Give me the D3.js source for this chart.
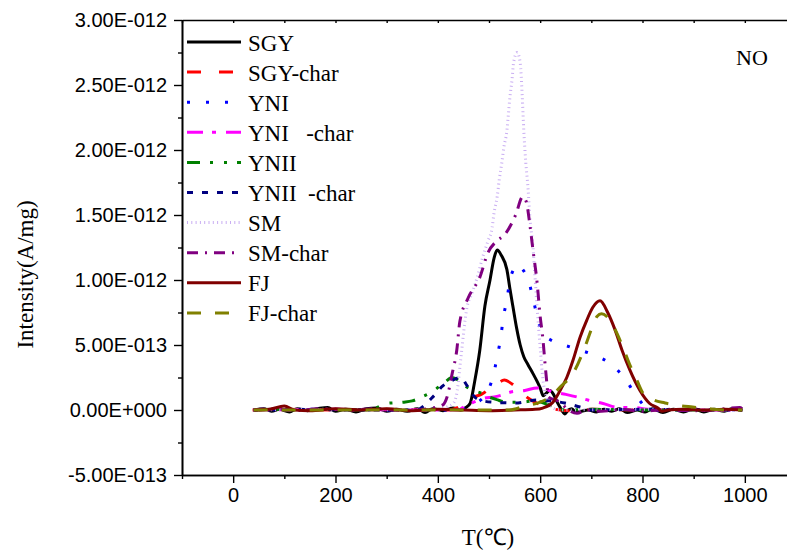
<!DOCTYPE html>
<html>
<head>
<meta charset="utf-8">
<script src="https://cdn.jsdelivr.net/npm/d3@7/dist/d3.min.js"></script>
<style>
  body { margin: 0; background: #fff; }
  svg { display: block; }
  .tick text { font-family: Arial, "Liberation Sans", sans-serif; font-size: 20px; fill: #000; }
  .serif { font-family: "Times New Roman", "Liberation Serif", serif; fill: #000; }
</style>
</head>
<body>
<svg id="chart" width="787" height="554"></svg>
<script>
// NO evolution profiles, temperature (°C) vs intensity in units of 1E-12 A/mg
const sgy = [[40,0],[60,0.01],[75,-0.01],[90,0.005],[110,-0.015],[125,0.01],[145,-0.005],[165,0.01],[185,0.02],[200,-0.01],[220,0.005],[240,-0.015],[260,0.01],[280,0.015],[300,-0.01],[320,0.005],[340,-0.01],[360,0.01],[375,-0.02],[390,0.01],[410,-0.005],[430,0.015],[445,0],[455,0.02],[463,0.05],[472,0.22],[482,0.46],[492,0.8],[502,1.0],[510,1.17],[516,1.23],[524,1.19],[535,1.08],[541,0.93],[547,0.79],[554,0.63],[561,0.5],[568,0.41],[576,0.35],[586,0.28],[594,0.22],[600,0.17],[606,0.11],[612,0.13],[619,0.15],[626,0.12],[632,0.07],[639,0.02],[648,-0.03],[655,0],[662,0.01],[670,-0.02],[680,-0.01],[695,0],[710,-0.015],[725,0.005],[740,-0.01],[755,0.01],[770,-0.02],[790,0],[805,-0.015],[820,0.01],[840,-0.02],[860,0.005],[880,-0.015],[900,0.01],[920,-0.015],[940,0.005],[960,-0.01],[975,0.01],[995,0]];
const sgyChar = [[38,0],[100,0.005],[200,0],[300,0.005],[400,0],[420,0],[440,0.02],[455,0.06],[470,0.1],[485,0.12],[500,0.16],[515,0.2],[530,0.23],[545,0.2],[560,0.15],[577,0.09],[595,0.05],[613,0.02],[630,0.005],[660,-0.005],[700,0.005],[800,0],[900,0.005],[995,0]];
const yni = [[40,0],[150,0.005],[300,0],[440,0],[460,0.02],[478,0.06],[490,0.1],[498,0.15],[508,0.26],[516,0.41],[523,0.56],[528,0.71],[535,0.85],[541,1.0],[548,1.08],[555,1.12],[566,1.08],[576,1.01],[586,0.86],[594,0.72],[605,0.59],[620,0.54],[639,0.51],[670,0.47],[707,0.42],[736,0.36],[748,0.32],[771,0.21],[791,0.09],[810,0.015],[830,0],[900,0.005],[995,0]];
const yniChar = [[40,0],[200,0.005],[350,0],[440,0],[453,0.03],[470,0.06],[490,0.09],[510,0.1],[525,0.115],[545,0.14],[570,0.15],[594,0.17],[610,0.16],[625,0.14],[650,0.12],[672,0.1],[693,0.077],[723,0.05],[752,0.02],[781,0.02],[810,0.005],[840,0],[995,0]];
const ynii = [[40,0],[100,0.005],[150,0],[200,0.005],[250,0],[275,0.01],[299,0.05],[332,0.06],[350,0.07],[369,0.1],[389,0.14],[414,0.215],[428,0.25],[440,0.23],[455,0.18],[470,0.15],[485,0.13],[500,0.1],[515,0.08],[535,0.06],[560,0.06],[590,0.07],[610,0.05],[630,0.02],[650,0],[700,0.005],[800,0],[995,0]];
const yniiChar = [[40,0],[120,0.005],[250,0],[360,0],[372,0.03],[385,0.08],[395,0.12],[408,0.18],[424,0.22],[445,0.25],[455,0.2],[463,0.15],[472,0.1],[482,0.077],[508,0.06],[551,0.054],[594,0.077],[620,0.07],[648,0.054],[678,0.023],[701,0],[800,0.005],[995,0]];
const sm = [[40,0],[200,0.005],[400,0],[415,0.02],[430,0.05],[438,0.15],[445,0.4],[457,0.79],[467,0.9],[477,1.02],[488,1.18],[498,1.3],[506,1.4],[510,1.52],[516,1.64],[520,1.77],[525,1.9],[529,2.02],[535,2.15],[538,2.28],[541,2.41],[545,2.54],[548,2.67],[555,2.75],[561,2.67],[565,2.41],[568,2.15],[572,1.9],[576,1.72],[580,1.48],[586,1.25],[590,1.02],[594,0.79],[600,0.48],[605,0.25],[612,0.1],[620,0.03],[640,0],[800,0.005],[995,0]];
const smChar = [[40,0],[80,0.01],[120,-0.005],[170,0.01],[230,0],[280,0.01],[330,-0.005],[380,0.01],[410,0.04],[418,0.1],[428,0.28],[437,0.46],[443,0.68],[459,0.86],[482,1.02],[498,1.21],[515,1.3],[531,1.35],[552,1.5],[566,1.64],[573,1.6],[580,1.42],[586,1.23],[594,0.98],[600,0.72],[605,0.56],[609,0.38],[613,0.21],[616,0.1],[639,0.06],[655,0],[672,-0.025],[690,0],[720,-0.01],[760,0.005],[800,-0.01],[850,0.005],[900,-0.005],[950,0.005],[990,0.02],[995,0.01]];
const fj = [[40,0],[70,0.005],[100,0.03],[120,0],[150,-0.005],[200,0.01],[250,0],[300,0.01],[350,-0.005],[400,0.005],[450,0],[500,-0.005],[550,0],[590,0.005],[605,0.015],[625,0.06],[639,0.15],[652,0.25],[664,0.38],[678,0.56],[691,0.69],[703,0.79],[717,0.84],[732,0.75],[746,0.62],[760,0.46],[775,0.31],[795,0.15],[814,0.05],[830,0.015],[838,-0.01],[850,0],[880,0.005],[920,0],[960,0.005],[995,0]];
const fjChar = [[40,0],[200,0],[400,0],[540,0],[570,0.03],[600,0.06],[619,0.1],[640,0.18],[664,0.28],[688,0.49],[700,0.62],[711,0.72],[720,0.74],[730,0.72],[745,0.63],[760,0.5],[775,0.35],[790,0.22],[801,0.13],[820,0.08],[844,0.054],[870,0.035],[898,0.023],[930,0.01],[957,0],[995,0]];

// legend labels, in plotting order
const seriesLabels = ["SGY", "SGY-char", "YNI", "YNI   -char", "YNII", "YNII  -char", "SM", "SM-char", "FJ", "FJ-char"];
const seriesData = [sgy, sgyChar, yni, yniChar, ynii, yniiChar, sm, smChar, fj, fjChar];

// axis ticks
const xMajor = [0, 200, 400, 600, 800, 1000];
const xMinor = [-100, 100, 300, 500, 700, 900, 1100];
const yMajor = [-0.5, 0, 0.5, 1.0, 1.5, 2.0, 2.5, 3.0];
const yMinor = [-0.25, 0.25, 0.75, 1.25, 1.75, 2.25, 2.75];

// line styles per series
const styles = [
  { color: "#000000", dash: null,              width: 3 },
  { color: "#ff0000", dash: "14,18",           width: 3 },
  { color: "#0000ff", dash: "3,16",            width: 3 },
  { color: "#ff00ff", dash: "16,9,4,10",       width: 3 },
  { color: "#008000", dash: "13,10,3,11,3,10", width: 3 },
  { color: "#000080", dash: "6,9",             width: 3 },
  { color: "#c9aef2", dash: "1,3.3",           width: 3 },
  { color: "#800080", dash: "11,7,2,7",        width: 3 },
  { color: "#800000", dash: null,              width: 3 },
  { color: "#808000", dash: "14,14",           width: 3 }
];

const svg = d3.select("#chart");
const plotLeft = 182, plotRight = 796, plotTop = 20, plotBottom = 475;

const x = d3.scaleLinear().domain([-100, 1100]).range([plotLeft, plotRight]);
const y = d3.scaleLinear().domain([-0.5, 3.0]).range([plotBottom, plotTop]);

// scientific labels such as 2.50E-012
function sci(v) {
  const a = v * 1e-12;
  if (Math.abs(a) < 1e-20) return "0.00E+000";
  const e = Math.floor(Math.log10(Math.abs(a)) + 1e-9);
  const m = a / Math.pow(10, e);
  const s = e < 0 ? "-" : "+";
  return m.toFixed(2) + "E" + s + String(Math.abs(e)).padStart(3, "0");
}

// curves
const line = d3.line()
  .x(d => x(d[0]))
  .y(d => y(d[1]))
  .curve(d3.curveMonotoneX);

const curves = svg.append("g");
seriesData.forEach((data, i) => {
  const st = styles[i];
  curves.append("path")
    .attr("d", line(data))
    .attr("fill", "none")
    .attr("stroke", st.color)
    .attr("stroke-width", st.width)
    .attr("stroke-linejoin", "round")
    .attr("stroke-dasharray", st.dash);
});

// axes
function styleAxis(g) {
  g.selectAll("path.domain").attr("stroke", "#000").attr("stroke-width", 1.6);
  g.selectAll(".tick line").attr("stroke", "#000").attr("stroke-width", 1.4);
}

svg.append("g").attr("transform", `translate(0,${plotBottom})`)
  .call(d3.axisBottom(x).tickValues(xMajor).tickSize(8).tickSizeOuter(0).tickPadding(5).tickFormat(d3.format("d")))
  .call(styleAxis);
svg.append("g").attr("transform", `translate(0,${plotBottom})`)
  .call(d3.axisBottom(x).tickValues(xMinor).tickSize(4).tickSizeOuter(0).tickFormat(""))
  .call(styleAxis);

svg.append("g").attr("transform", `translate(${plotLeft},0)`)
  .call(d3.axisLeft(y).tickValues(yMajor).tickSize(8).tickSizeOuter(0).tickPadding(7).tickFormat(sci))
  .call(styleAxis);
svg.append("g").attr("transform", `translate(${plotLeft},0)`)
  .call(d3.axisLeft(y).tickValues(yMinor).tickSize(4).tickSizeOuter(0).tickFormat(""))
  .call(styleAxis);

// top frame line with small inner ticks
svg.append("g").attr("transform", `translate(0,${plotTop})`)
  .call(d3.axisBottom(x).tickValues(xMajor.concat(xMinor)).tickSize(3).tickSizeOuter(0).tickFormat(""))
  .call(styleAxis);

// axis titles
svg.append("text").attr("class", "serif")
  .attr("x", 488).attr("y", 545)
  .attr("text-anchor", "middle").attr("font-size", 23)
  .text("T(℃)");
svg.append("text").attr("class", "serif")
  .attr("transform", `translate(33,${(plotTop + plotBottom) / 2 + 27}) rotate(-90)`)
  .attr("text-anchor", "middle").attr("font-size", 23)
  .text("Intensity(A/mg)");

// gas label
svg.append("text").attr("class", "serif")
  .attr("x", 752).attr("y", 65)
  .attr("text-anchor", "middle").attr("font-size", 22)
  .text("NO");

// legend
const legend = svg.append("g");
seriesLabels.forEach((label, i) => {
  const st = styles[i];
  const ly = 42 + i * 30.1;
  legend.append("line")
    .attr("x1", 187).attr("x2", 241).attr("y1", ly).attr("y2", ly)
    .attr("stroke", st.color).attr("stroke-width", st.width)
    .attr("stroke-dasharray", st.dash);
  legend.append("text").attr("class", "serif")
    .attr("x", 248).attr("y", ly + 8.5)
    .attr("font-size", 23)
    .style("white-space", "pre")
    .text(label);
});
</script>
</body>
</html>
